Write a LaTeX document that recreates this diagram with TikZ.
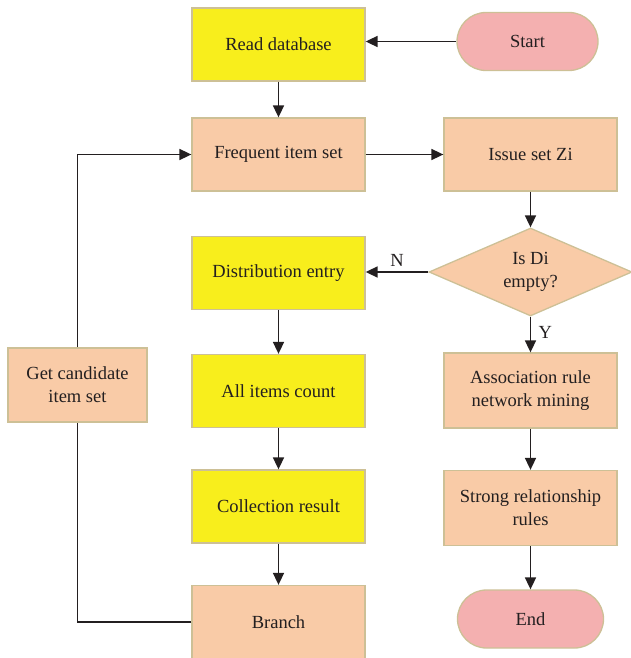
\documentclass[tikz,border=0pt]{standalone}
\usepackage{fontspec}
\setmainfont{Liberation Serif}
\usetikzlibrary{arrows.meta,shapes.geometric}
\definecolor{boxyellow}{HTML}{F8EE1C}
\definecolor{boxpeach}{HTML}{F9CBA7}
\definecolor{boxpink}{HTML}{F4B0B0}
\definecolor{boxedge}{HTML}{CDC096}
\definecolor{linkcol}{HTML}{231F20}
\begin{document}
\begin{tikzpicture}[x=1pt,y=-1pt,
  font=\fontsize{18.5}{23}\selectfont,
  box/.style={rectangle,draw=boxedge,line width=1.3pt,minimum width=173pt,minimum height=73pt,align=center,inner sep=2pt,text=linkcol},
  ybox/.style={box,fill=boxyellow},
  pbox/.style={box,fill=boxpeach},
  capsule/.style={rectangle,rounded corners=29pt,draw=boxedge,line width=1.3pt,fill=boxpink,minimum height=58pt,text=linkcol},
  decision/.style={diamond,draw=boxedge,line width=1.3pt,fill=boxpeach,minimum width=203pt,minimum height=88pt,aspect=2.3,inner sep=0pt,align=center,text=linkcol},
  arr/.style={draw=linkcol,line width=1.7pt,-{Triangle[length=12pt,width=11pt]}},
  link/.style={draw=linkcol,line width=1.7pt},
  tag/.style={text=linkcol}]
\useasboundingbox (0,0) rectangle (630,658);

% left column
\node[ybox] (read) at (278.5,44.5) {Read database};
\node[pbox] (freq) at (278.5,154.5) {Frequent item set};
\node[ybox] (dist) at (278.5,273) {Distribution entry};
\node[ybox] (count) at (278.5,391) {All items count};
\node[ybox] (coll) at (278.5,506.5) {Collection result};
\node[pbox] (branch) at (278.5,622) {Branch};
\node[pbox,minimum width=139pt,minimum height=74pt] (cand) at (77.5,385) {Get candidate\\item set};

% right column
\node[capsule,minimum width=141pt] (start) at (527.5,41.5) {Start};
\node[pbox] (issue) at (530.5,154.5) {Issue set Zi};
\node[decision] (empty) at (530.5,272) {Is Di\\empty?};
\node[pbox,minimum height=75pt] (assoc) at (530.5,390.5) {Association rule\\network mining};
\node[pbox,minimum height=75pt] (strong) at (530.5,508) {Strong relationship\\rules};
\node[capsule,minimum width=146pt] (stop) at (530.5,619) {End};

% connectors
\draw[arr] (start.west) -- (start.west -| read.east);
\draw[arr] (read) -- (freq);
\draw[arr] (freq) -- (issue);
\draw[arr] (issue) -- (empty);
\draw[arr] (empty.west) -- (empty.west -| dist.east)
  node[tag,pos=0.5,above=1pt] {N};
\draw[arr] (empty.south) -- (assoc.north)
  node[tag,pos=0.45,right=4pt] {Y};
\draw[arr] (dist) -- (count);
\draw[arr] (count) -- (coll);
\draw[arr] (coll) -- (branch);
\draw[arr] (assoc) -- (strong);
\draw[arr] (strong) -- (stop);
\draw[link] (branch.west) -| (cand.south);
\draw[arr] (cand.north) |- (freq.west);
\end{tikzpicture}
\end{document}
